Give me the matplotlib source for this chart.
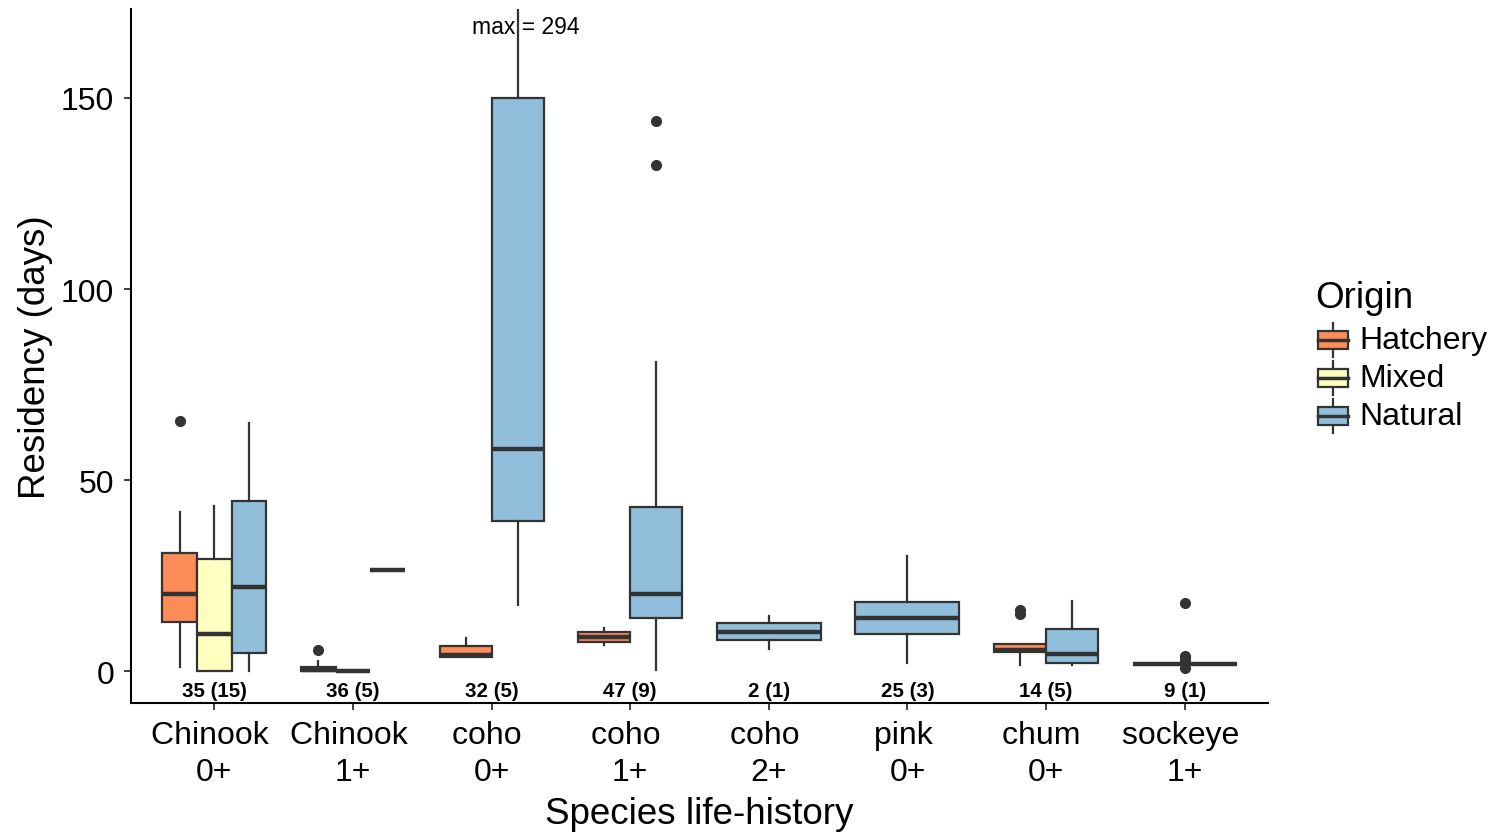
import matplotlib
matplotlib.use("Agg")
import matplotlib.pyplot as plt
from matplotlib.patches import Rectangle
from matplotlib.lines import Line2D

plt.rcParams['font.family'] = ['Liberation Sans', 'DejaVu Sans']

# ---------------- data ----------------
categories = ["Chinook \n0+", "Chinook \n1+", "coho \n0+", "coho \n1+", "coho \n2+",
              "pink \n0+", "chum \n0+", "sockeye \n1+"]
n_labels = ["35 (15)", "36 (5)", "32 (5)", "47 (9)", "2 (1)", "25 (3)", "14 (5)", "9 (1)"]
origins = ["Hatchery", "Mixed", "Natural"]
origin_colors = {"Hatchery": "#FC8D59", "Mixed": "#FFFFBF", "Natural": "#91BFDB"}

box_cat = [0, 0, 0, 1, 1, 1, 2, 2, 3, 3, 4, 5, 6, 6, 7]
box_origin = ["Hatchery", "Mixed", "Natural",
              "Hatchery", "Mixed", "Natural",
              "Hatchery", "Natural",
              "Hatchery", "Natural",
              "Natural", "Natural",
              "Hatchery", "Natural",
              "Natural"]
whislo = [1.2, 0.0, 0.1, 0.0, 0.2, 26.5, 3.8, 17.3, 6.9, 0.3, 6.0, 2.1, 1.8, 1.8, 1.9]
q1 = [13.0, 0.0, 4.7, 0.0, 0.2, 26.5, 3.8, 39.3, 7.8, 14.1, 8.2, 9.9, 5.0, 2.1, 1.9]
med = [20.2, 9.8, 22.2, 0.4, 0.2, 26.5, 4.4, 58.1, 9.0, 20.2, 10.4, 14.0, 5.6, 4.5, 1.9]
q3 = [30.9, 29.3, 44.7, 1.1, 0.2, 26.5, 6.6, 150.0, 10.4, 42.9, 12.6, 18.2, 7.3, 11.1, 1.9]
whishi = [41.8, 43.4, 64.9, 2.7, 0.2, 26.5, 8.8, 294.0, 11.3, 80.9, 14.6, 30.3, 7.3, 18.4, 1.9]
fliers = [[65.5], [], [], [5.5], [], [], [], [], [], [132.5, 144.0],
          [], [], [15.0, 16.0], [], [18.0, 4.0, 3.0, 1.0]]

max_label = "max = 294"
max_label_y = 168.6

# ---------------- figure ----------------
W, H = 1495, 837
fig = plt.figure(figsize=(W / 100, H / 100), dpi=100)
ax = fig.add_axes([131 / W, 1 - 704 / H, (1268 - 131) / W, (704 - 10) / H])

edge = "#333333"
dodge_total = 0.75

# positions per box
positions, widths = [], []
for i, c in enumerate(box_cat):
    members = [j for j, cc in enumerate(box_cat) if cc == c]
    n = len(members)
    k = members.index(i)
    w = dodge_total / n
    positions.append(c + 1 + (k - (n - 1) / 2) * w)
    widths.append(w)

stats = []
for i in range(len(box_cat)):
    stats.append(dict(whislo=whislo[i], q1=q1[i], med=med[i], q3=q3[i],
                      whishi=whishi[i], fliers=fliers[i]))

bp = ax.bxp(stats, positions=positions, widths=widths, patch_artist=True,
            showcaps=False, manage_ticks=False,
            boxprops=dict(edgecolor=edge, linewidth=1.6),
            whiskerprops=dict(color=edge, linewidth=1.6),
            medianprops=dict(color=edge, linewidth=3.2, solid_capstyle='butt'),
            flierprops=dict(marker='o', markerfacecolor=edge, markeredgecolor=edge,
                            markersize=7, linestyle='none'))
for patch, o in zip(bp['boxes'], box_origin):
    patch.set_facecolor(origin_colors[o])
    patch.set_zorder(2)

# n labels
for i, lab in enumerate(n_labels):
    ax.text(i + 1, -4.9, lab, ha='center', va='center', fontsize=14.8,
            fontweight='bold', color='black')

# max annotation
ax.text(3.25, max_label_y, max_label, ha='center', va='center', fontsize=16.5,
        color='black', zorder=5)

ax.set_xlim(0.4, 8.6)
ax.set_ylim(-8.25, 173.25)
ax.set_xticks(range(1, len(categories) + 1))
ax.set_xticklabels(categories, fontsize=23, linespacing=1.3)
ax.set_yticks([0, 50, 100, 150])
ax.set_yticklabels(["0", "50", "100", "150"], fontsize=23)
ax.tick_params(axis='both', length=5, width=1.3, color=edge)
ax.tick_params(axis='y', pad=7)
ax.tick_params(axis='x', pad=7)
for s in ['top', 'right']:
    ax.spines[s].set_visible(False)
for s in ['left', 'bottom']:
    ax.spines[s].set_linewidth(1.5)
    ax.spines[s].set_color('black')
ax.set_xlabel("Species life-history", fontsize=26.5, labelpad=7)
ax.set_ylabel("Residency (days)", fontsize=26.5, labelpad=6)

# ---------------- legend (manual, pixel coords) ----------------
lax = fig.add_axes([0, 0, 1, 1])
lax.set_xlim(0, W)
lax.set_ylim(H, 0)
lax.axis('off')
lax.text(1315, 298, "Origin", fontsize=26.5, ha='left', va='center')
for k, o in enumerate(origins):
    cy = 341 + 38 * k
    lax.add_line(Line2D([1333, 1333], [cy - 17, cy + 17], color=edge, linewidth=1.6))
    lax.add_patch(Rectangle((1318, cy - 9), 30, 18, facecolor=origin_colors[o],
                            edgecolor=edge, linewidth=1.6, zorder=3))
    lax.add_line(Line2D([1318, 1348], [cy, cy], color=edge, linewidth=2.5, zorder=4))
    lax.text(1359, cy, o, fontsize=23, ha='left', va='center')

fig.savefig("out.png", dpi=100)
